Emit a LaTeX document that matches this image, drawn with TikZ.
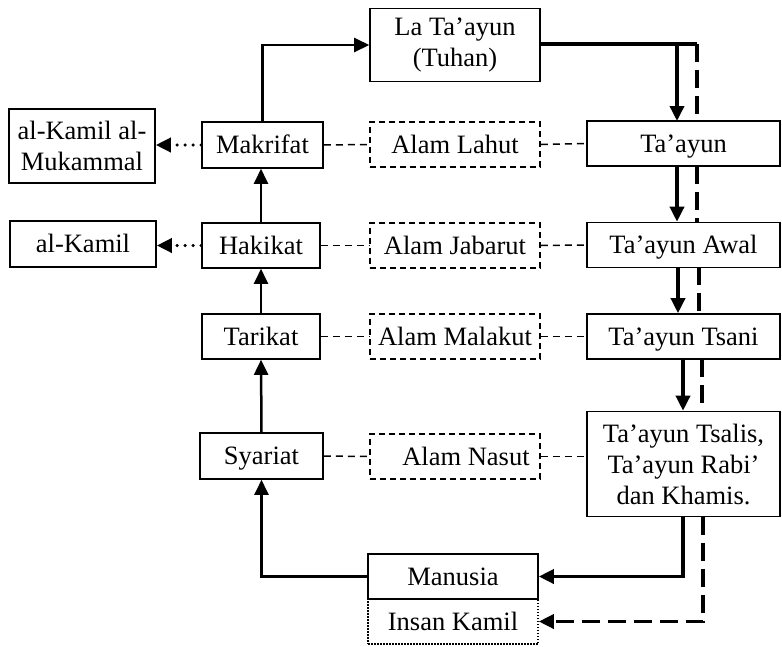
\documentclass[tikz,border=0pt]{standalone}
\usepackage{fontspec}
\setmainfont{Liberation Serif}
\usetikzlibrary{arrows.meta}
\begin{document}
\begin{tikzpicture}[x=1pt,y=-1pt,
  every node/.style={font=\fontsize{26.5}{31}\selectfont, inner sep=0pt},
  box/.style={draw, line width=1.6pt, minimum height=45pt, text height=17.5pt, text depth=0pt},
  mbox/.style={draw, line width=1.6pt, align=center},
  dbox/.style={box, dash pattern=on 6pt off 4pt},
  obox/.style={box, dash pattern=on 1.5pt off 1.5pt},
  tip/.style={-{Triangle[length=15pt,width=14pt]}},
  arr/.style={tip, line width=2.5pt},
  tarr/.style={tip, line width=3.5pt},
  tdash/.style={line width=3.5pt, dash pattern=on 18pt off 8pt},
  thindash/.style={line width=1.5pt, dash pattern=on 7pt off 5pt},
  dotarr/.style={line width=3.5pt, line cap=round, dash pattern=on 0pt off 8pt, -{Triangle[length=15pt,width=14pt,line cap=butt]}}
]
\useasboundingbox (0,0) rectangle (782,646);
\node[mbox, minimum width=170pt, minimum height=73pt] (latayun) at (455,45) {La Ta’ayun\\(Tuhan)};
\node[box, minimum width=193pt] (tayun) at (683.5,143.5) {Ta’ayun};
\node[dbox, minimum width=170pt] (lahut) at (455,144.5) {Alam Lahut};
\node[box, minimum width=121pt, minimum height=46pt] (makrifat) at (262.5,145) {Makrifat};
\node[mbox, minimum width=146pt, minimum height=74pt] (mukammal) at (82,146) {al-Kamil al-\\Mukammal};
\node[box, minimum width=118pt] (hakikat) at (261,245.5) {Hakikat};
\node[box, minimum width=146pt, minimum height=46pt] (kamil) at (83,244) {al-Kamil};
\node[dbox, minimum width=170pt] (jabarut) at (455,245.5) {Alam Jabarut};
\node[box, minimum width=193pt] (awal) at (683.5,245) {Ta’ayun Awal};
\node[box, minimum width=118pt] (tarikat) at (261,336.5) {Tarikat};
\node[dbox, minimum width=170pt] (malakut) at (455,336.5) {Alam Malakut};
\node[box, minimum width=193pt] (tsani) at (683.5,336.5) {Ta’ayun Tsani};
\node[box, minimum width=123pt, minimum height=46pt] (syariat) at (261.5,456) {Syariat};
\node[dbox, minimum width=170pt] (nasut) at (455,456.5) {\hspace*{22pt}Alam Nasut};
\node[mbox, minimum width=193pt, minimum height=105pt] (tsalis) at (683.5,464) {Ta’ayun Tsalis,\\Ta’ayun Rabi’\\dan Khamis.};
\node[box, minimum width=170pt] (manusia) at (453,576.5) {Manusia};
\node[obox, minimum width=170pt] (insan) at (453,621.5) {Insan Kamil};
% top
\draw[arr] (makrifat.north) |- (latayun.west);
\coordinate (tr) at (697,44);
\draw[line width=3.5pt] (latayun.east |- tr) -- (tr);
\draw[tarr] (677,44) -- (677,121);
\draw[tdash] (tr) -- (697,121);
% right column
\draw[tarr] (677,166) -- (awal.north -| 677,0);
\draw[tdash] (697,166) -- (697,223);
\draw[tarr] (678,267) -- (tsani.north -| 678,0);
\draw[tdash] (699,267) -- (699,314);
\draw[tarr] (683,359) -- (tsalis.north -| 683,0);
\draw[tdash] (702,359) -- (702,411);
\draw[tarr] (683,516.5) |- (manusia.east);
\draw[tarr, dash pattern=on 18pt off 8pt] (703,516.5) |- (insan.east);
% left column
\draw[arr] (manusia.west) -| (syariat.south);
\draw[arr] (syariat.north) -- (tarikat.south);
\draw[arr] (tarikat.north) -- (hakikat.south);
\draw[arr] (hakikat.north) -- (makrifat.south -| hakikat.north);
\draw[dotarr] (makrifat.west) -- (mukammal.east |- makrifat.west);
\draw[dotarr] (hakikat.west) -- (kamil.east |- hakikat.west);
% dashed links
\draw[thindash] (makrifat.east) -- (lahut.west);
\draw[thindash] (lahut.east) -- (tayun.west);
\draw[thindash] (hakikat.east) -- (jabarut.west);
\draw[thindash] (jabarut.east) -- (awal.west);
\draw[thindash] (tarikat.east) -- (malakut.west);
\draw[thindash] (malakut.east) -- (tsani.west);
\draw[thindash] (syariat.east) -- (nasut.west);
\draw[thindash] (nasut.east) -- (tsalis.west |- nasut.east);
\end{tikzpicture}
\end{document}
